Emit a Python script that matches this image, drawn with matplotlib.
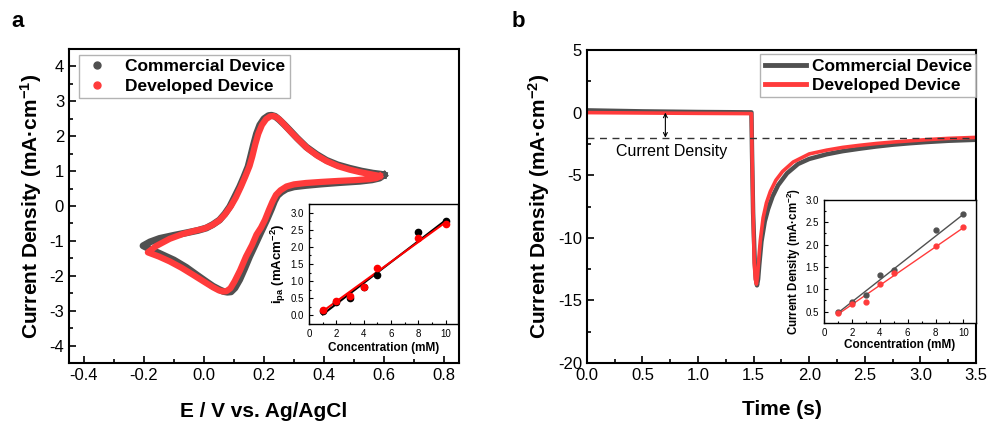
import numpy as np
import matplotlib
matplotlib.use('Agg')
import matplotlib.pyplot as plt
from matplotlib.lines import Line2D
from matplotlib.ticker import MultipleLocator

plt.rcParams['font.family'] = ['Liberation Sans', 'DejaVu Sans']
plt.rcParams['mathtext.default'] = 'regular'

GRAY = '#505050'
RED = '#ff3b3b'

# ---- panel a: cyclic voltammetry (E in V, j in mA/cm)
cv_com_E = [0.60, 0.585, 0.56, 0.52, 0.45, 0.39, 0.34, 0.30, 0.275, 0.258, 0.245,
            0.235, 0.225, 0.21, 0.198, 0.186, 0.17, 0.152, 0.135, 0.119, 0.103,
            0.09, 0.078, 0.065, 0.052, 0.03, 0.008, -0.025, -0.059, -0.1, -0.148,
            -0.18, -0.203, -0.18, -0.148, -0.1, -0.059, -0.02, 0.008, 0.03, 0.052,
            0.07, 0.086, 0.10, 0.119, 0.133, 0.147, 0.155, 0.165, 0.175, 0.186,
            0.2, 0.215, 0.225, 0.237, 0.25, 0.268, 0.286, 0.31, 0.341, 0.375,
            0.408, 0.445, 0.486, 0.525, 0.563, 0.59, 0.60]
cv_com_j = [0.89, 0.80, 0.75, 0.71, 0.67, 0.63, 0.59, 0.55, 0.49, 0.40, 0.30,
            0.14, -0.08, -0.38, -0.60, -0.82, -1.12, -1.45, -1.80, -2.11, -2.35,
            -2.46, -2.47, -2.45, -2.40, -2.30, -2.17, -1.97, -1.76, -1.55, -1.36,
            -1.24, -1.14, -1.03, -0.93, -0.84, -0.77, -0.70, -0.63, -0.53, -0.40,
            -0.22, -0.02, 0.22, 0.55, 0.83, 1.13, 1.40, 1.75, 2.07, 2.32,
            2.50, 2.59, 2.60, 2.57, 2.48, 2.33, 2.17, 1.95, 1.69, 1.48,
            1.31, 1.18, 1.08, 1.00, 0.94, 0.91, 0.89]
cv_dev_E = [0.586, 0.575, 0.55, 0.50, 0.45, 0.39, 0.34, 0.30, 0.275, 0.255, 0.24,
            0.228, 0.217, 0.203, 0.19, 0.175, 0.16, 0.14, 0.12, 0.102, 0.088,
            0.075, 0.063, 0.05, 0.03, 0.0, -0.037, -0.075, -0.114, -0.15, -0.187,
            -0.16, -0.114, -0.07, -0.03, 0.0, 0.025, 0.05, 0.07, 0.09, 0.106,
            0.123, 0.138, 0.152, 0.161, 0.171, 0.181, 0.193, 0.207, 0.221, 0.232,
            0.244, 0.257, 0.273, 0.29, 0.315, 0.345, 0.378, 0.41, 0.447, 0.486,
            0.52, 0.55, 0.586]
cv_dev_j = [0.86, 0.80, 0.77, 0.74, 0.72, 0.69, 0.66, 0.62, 0.56, 0.45, 0.32,
            0.12, -0.10, -0.40, -0.62, -0.82, -1.12, -1.45, -1.85, -2.16, -2.36,
            -2.44, -2.45, -2.42, -2.33, -2.17, -1.97, -1.77, -1.59, -1.45, -1.33,
            -1.15, -0.94, -0.80, -0.71, -0.65, -0.56, -0.42, -0.24, 0.0, 0.24,
            0.55, 0.85, 1.15, 1.42, 1.77, 2.07, 2.32, 2.49, 2.57, 2.58,
            2.53, 2.43, 2.28, 2.12, 1.90, 1.65, 1.44, 1.28, 1.14, 1.04,
            0.97, 0.92, 0.86]

# inset a: anodic peak current vs concentration
conc_a = [1, 2, 3, 4, 5, 8, 10]
ipa_com = [0.14, 0.40, 0.50, 0.82, 1.17, 2.43, 2.75]
ipa_dev = [0.17, 0.42, 0.58, 0.83, 1.37, 2.27, 2.68]
fit_a_x = [1, 10]
fit_a_com = [0.03, 2.78]
fit_a_dev = [0.12, 2.72]

# ---- panel b: chronoamperometry
t_com = [0.0, 0.5, 1.0, 1.48, 1.485, 1.495, 1.51, 1.52, 1.53, 1.54, 1.55, 1.57,
         1.60, 1.63, 1.67, 1.72, 1.80, 1.90, 2.0, 2.156, 2.3, 2.455, 2.6, 2.755,
         2.9, 3.056, 3.25, 3.5]
j_com = [0.18, 0.10, 0.05, 0.02, -3.0, -8.0, -12.0, -13.3, -13.8, -13.3, -12.2, -10.3,
         -8.7, -7.7, -6.7, -5.8, -4.85, -4.1, -3.7, -3.33, -3.08, -2.88, -2.71, -2.56,
         -2.45, -2.35, -2.25, -2.17]
t_dev = [0.0, 0.5, 1.0, 1.48, 1.485, 1.495, 1.505, 1.515, 1.525, 1.535, 1.545, 1.56,
         1.585, 1.615, 1.65, 1.70, 1.76, 1.855, 2.0, 2.156, 2.3, 2.455, 2.6, 2.755,
         3.056, 3.25, 3.5]
j_dev = [0.0, -0.03, -0.06, -0.08, -3.0, -8.0, -12.0, -13.3, -13.7, -13.0, -11.8, -10.2,
         -8.4, -7.2, -6.3, -5.4, -4.7, -3.95, -3.3, -3.0, -2.78, -2.61, -2.47, -2.35,
         -2.16, -2.06, -1.98]

# inset b: current density vs concentration
conc_b = [1, 2, 3, 4, 5, 8, 10]
cd_com = [0.50, 0.71, 0.86, 1.33, 1.44, 2.32, 2.68]
cd_dev = [0.46, 0.67, 0.71, 1.11, 1.36, 1.97, 2.40]
fit_b_x = [1, 10]
fit_b_com = [0.47, 2.68]
fit_b_dev = [0.44, 2.38]


def style(ax, lw=1.5, maj=5, mino=3, size=12):
    for s in ax.spines.values():
        s.set_linewidth(lw)
    ax.tick_params(which='both', direction='in', width=lw * 0.8, labelsize=size)
    ax.tick_params(which='major', length=maj)
    ax.tick_params(which='minor', length=mino)


fig = plt.figure(figsize=(9.88, 4.21), dpi=100)

# panel a
ax1 = fig.add_axes([0.0698, 0.1378, 0.3948, 0.7458])
ax1.plot(cv_com_E, cv_com_j, '-', color=GRAY, lw=5, solid_joinstyle='round')
ax1.plot(cv_dev_E, cv_dev_j, '-', color=RED, lw=4.5, solid_joinstyle='round')
ax1.set_xlim(-0.45, 0.85)
ax1.set_ylim(-4.5, 4.5)
ax1.xaxis.set_minor_locator(MultipleLocator(0.1))
ax1.yaxis.set_minor_locator(MultipleLocator(0.5))
ax1.set_xticks(np.arange(-0.4, 0.81, 0.2))
ax1.set_xticklabels(['-0.4', '-0.2', '0.0', '0.2', '0.4', '0.6', '0.8'])
ax1.set_yticks(range(-4, 5))
ax1.set_yticklabels([str(v) for v in range(-4, 5)])
style(ax1)
ax1.set_xlabel('E / V vs. Ag/AgCl', fontsize=15, fontweight='bold', labelpad=14)
ax1.set_ylabel('Current Density (mA·cm$^{-1}$)', fontsize=15, fontweight='bold', labelpad=4)
h = [Line2D([], [], ls='none', marker='o', ms=5, color=GRAY),
     Line2D([], [], ls='none', marker='o', ms=5, color=RED)]
leg = ax1.legend(h, ['Commercial Device', 'Developed Device'], loc='upper left',
                 bbox_to_anchor=(0.026, 0.981), borderaxespad=0, fancybox=False,
                 edgecolor='#a0a0a0', prop={'weight': 'bold', 'size': 12.5},
                 handlelength=1.6, handletextpad=0.8, borderpad=0.25, labelspacing=0.25)
leg.get_frame().set_linewidth(1)

ins1 = fig.add_axes([0.3128, 0.2304, 0.1508, 0.285])
ins1.plot(fit_a_x, fit_a_com, '-', color='black', lw=1.5)
ins1.plot(fit_a_x, fit_a_dev, '-', color='red', lw=1.5)
ins1.plot(conc_a, ipa_com, 'o', color='black', ms=4.5)
ins1.plot(conc_a, ipa_dev, 'o', color='red', ms=4.5)
ins1.set_xlim(0, 10.9)
ins1.set_ylim(-0.25, 3.25)
ins1.xaxis.set_major_locator(MultipleLocator(2))
ins1.xaxis.set_minor_locator(MultipleLocator(1))
ins1.set_yticks(np.arange(0, 3.01, 0.5))
ins1.set_yticklabels(['0.0', '0.5', '1.0', '1.5', '2.0', '2.5', '3.0'])
ins1.yaxis.set_minor_locator(MultipleLocator(0.25))
style(ins1, lw=1.0, maj=3, mino=1.5, size=7)
ins1.set_xlabel('Concentration (mM)', fontsize=8.5, fontweight='bold', labelpad=2)
ins1.set_ylabel('i$_{pa}$ (mAcm$^{-2}$)', fontsize=9.5, fontweight='bold', labelpad=2)

# panel b
ax2 = fig.add_axes([0.594, 0.1378, 0.3939, 0.7434])
ax2.plot(t_com, j_com, '-', color=GRAY, lw=3.2, solid_joinstyle='round')
ax2.plot(t_dev, j_dev, '-', color=RED, lw=2.6, solid_joinstyle='round')
ax2.axhline(-2, color='#333333', lw=1, ls=(0, (5, 4)))
ax2.annotate('', xy=(0.706, -2.0), xytext=(0.706, 0.0),
             arrowprops=dict(arrowstyle='<->', color='black', lw=0.8,
                             shrinkA=0, shrinkB=0, mutation_scale=7))
ax2.text(0.76, -3.1, 'Current Density', fontsize=11.5, ha='center', va='center')
ax2.set_xlim(0, 3.5)
ax2.set_ylim(-20, 5)
ax2.xaxis.set_major_locator(MultipleLocator(0.5))
ax2.xaxis.set_minor_locator(MultipleLocator(0.25))
ax2.set_yticks([-20, -15, -10, -5, 0, 5])
ax2.set_yticklabels(['-20', '-15', '-10', '-5', '0', '5'])
ax2.yaxis.set_minor_locator(MultipleLocator(2.5))
style(ax2)
ax2.set_xlabel('Time (s)', fontsize=15, fontweight='bold', labelpad=12)
ax2.set_ylabel('Current Density (mA·cm$^{-2}$)', fontsize=15, fontweight='bold', labelpad=4)
leg2 = ax2.legend(['Commercial Device', 'Developed Device'], loc='upper right',
                  bbox_to_anchor=(1.0, 0.987), borderaxespad=0, fancybox=False,
                  edgecolor='#a0a0a0', prop={'weight': 'bold', 'size': 12.5},
                  handlelength=2.4, handletextpad=0.3, borderpad=0.25, labelspacing=0.25)
leg2.get_frame().set_linewidth(1)
for ln in leg2.get_lines():
    ln.set_linewidth(3.5)

ins2 = fig.add_axes([0.834, 0.2335, 0.1538, 0.2914])
ins2.plot(fit_b_x, fit_b_com, '-', color=GRAY, lw=1.0)
ins2.plot(fit_b_x, fit_b_dev, '-', color=RED, lw=1.0)
ins2.plot(conc_b, cd_com, 'o', color=GRAY, ms=3.5)
ins2.plot(conc_b, cd_dev, 'o', color=RED, ms=3.5)
ins2.set_xlim(0, 10.9)
ins2.set_ylim(0.25, 3.0)
ins2.xaxis.set_major_locator(MultipleLocator(2))
ins2.xaxis.set_minor_locator(MultipleLocator(1))
ins2.set_yticks([0.5, 1.0, 1.5, 2.0, 2.5, 3.0])
ins2.set_yticklabels(['0.5', '1.0', '1.5', '2.0', '2.5', '3.0'])
ins2.yaxis.set_minor_locator(MultipleLocator(0.25))
style(ins2, lw=1.0, maj=3, mino=1.5, size=7)
ins2.set_xlabel('Concentration (mM)', fontsize=8.5, fontweight='bold', labelpad=1)
ins2.set_ylabel('Current Density (mA·cm$^{-2}$)', fontsize=8.3, fontweight='bold', labelpad=2)

fig.text(0.012, 0.935, 'a', fontsize=16, fontweight='bold')
fig.text(0.518, 0.935, 'b', fontsize=16, fontweight='bold')

fig.savefig('out.png', dpi=100)
